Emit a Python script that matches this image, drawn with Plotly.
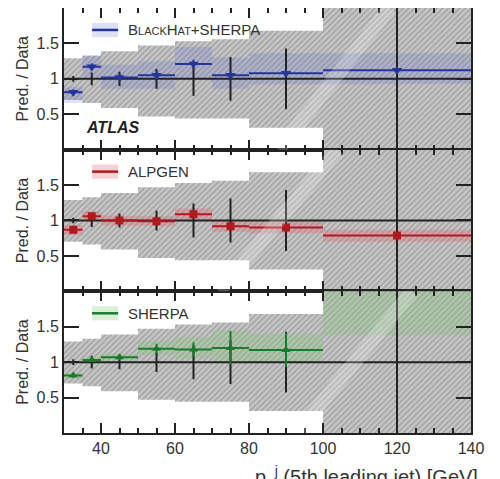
import plotly.graph_objects as go
from plotly.subplots import make_subplots

# ---------------- data ----------------
bin_edges = [30, 35, 40, 50, 60, 70, 80, 100, 140]
bin_centers = [32.5, 37.5, 45, 55, 65, 75, 90, 120]

# data uncertainty (hatched band), ratio = 1
data_lo = [0.70, 0.66, 0.59, 0.47, 0.44, 0.44, 0.31, -1.0]
data_hi = [1.29, 1.33, 1.39, 1.47, 1.53, 1.56, 1.68, 3.0]
data_stat = [0.04, 0.09, 0.10, 0.14, 0.24, 0.31, 0.43, 1.5]

# BlackHat+SHERPA
bh_val = [0.81, 1.17, 1.02, 1.05, 1.21, 1.05, 1.08, 1.12]
bh_err = [0.04, 0.05, 0.05, 0.06, 0.06, 0.04, 0.05, 0.05]
bh_lo = [0.66, 1.02, 0.86, 0.86, 0.98, 0.86, 0.92, 0.93]
bh_hi = [0.88, 1.32, 1.20, 1.25, 1.45, 1.30, 1.36, 1.36]

# ALPGEN
al_val = [0.87, 1.06, 1.00, 0.99, 1.09, 0.92, 0.90, 0.79]
al_err = [0.03, 0.04, 0.03, 0.03, 0.05, 0.04, 0.04, 0.03]
al_lo = [0.80, 0.99, 0.93, 0.92, 1.01, 0.84, 0.82, 0.70]
al_hi = [0.94, 1.13, 1.07, 1.06, 1.17, 1.00, 0.98, 0.87]

# SHERPA
sh_val = [0.81, 1.03, 1.07, 1.19, 1.18, 1.20, 1.17, 2.40]
sh_err = [0.03, 0.03, 0.04, 0.07, 0.10, 0.24, 0.24, 0.30]
sh_lo = [0.77, 0.99, 1.02, 1.10, 1.05, 1.02, 1.00, 1.38]
sh_hi = [0.85, 1.07, 1.12, 1.30, 1.35, 1.45, 1.40, 3.00]

y_ticks = [0.5, 1, 1.5]
x_ticks = [40, 60, 80, 100, 120, 140]

# light diagonal moire stripe across the hatching (x at y=0, x at y=2)
stripe_x0 = [88, 72, 93]
stripe_x1 = [118, 104, 124]

FONT = "Arial, Liberation Sans, sans-serif"


def step_polygon(edges, lo, hi):
    xs, ys = [], []
    for i in range(len(lo)):
        xs += [edges[i], edges[i + 1]]
        ys += [hi[i], hi[i]]
    for i in reversed(range(len(lo))):
        xs += [edges[i + 1], edges[i]]
        ys += [lo[i], lo[i]]
    xs.append(xs[0])
    ys.append(ys[0])
    return xs, ys


half_w = [(bin_edges[i + 1] - bin_edges[i]) / 2 for i in range(len(bin_centers))]

models = [
    dict(val=bh_val, err=bh_err, lo=bh_lo, hi=bh_hi, color="#23349a",
         band="rgba(90,100,210,0.20)", symbol="triangle-down", size=9,
         name="B<span style='font-size:11px'>LACK</span>H<span style='font-size:11px'>AT</span>+SHERPA"),
    dict(val=al_val, err=al_err, lo=al_lo, hi=al_hi, color="#b01a1e",
         band="rgba(235,90,100,0.28)", symbol="square", size=8, name="ALPGEN"),
    dict(val=sh_val, err=sh_err, lo=sh_lo, hi=sh_hi, color="#1c7a2c",
         band="rgba(120,200,110,0.28)", symbol="triangle-up", size=8, name="SHERPA"),
]

fig = make_subplots(rows=3, cols=1, shared_xaxes=True, vertical_spacing=0)

for r, m in enumerate(models, start=1):
    xa = "x" if r == 1 else f"x{r}"
    ya = "y" if r == 1 else f"y{r}"
    # hatched data uncertainty
    hx, hy = step_polygon(bin_edges, data_lo, data_hi)
    fig.add_trace(go.Scatter(
        x=hx, y=hy, mode="lines", line=dict(width=0), fill="toself",
        fillcolor="#c6c6c6",
        fillpattern=dict(shape="/", fgcolor="#7c7c7c", bgcolor="#c8c8c8",
                         size=4, solidity=0.4),
        hoverinfo="skip", showlegend=False), row=r, col=1)
    # model band
    bx, by = step_polygon(bin_edges, m["lo"], m["hi"])
    fig.add_trace(go.Scatter(
        x=bx, y=by, mode="lines", line=dict(width=0), fill="toself",
        fillcolor=m["band"], hoverinfo="skip", showlegend=False), row=r, col=1)
    # reference line at 1
    fig.add_trace(go.Scatter(
        x=[bin_edges[0], bin_edges[-1]], y=[1, 1], mode="lines",
        line=dict(color="#222222", width=2), hoverinfo="skip",
        showlegend=False), row=r, col=1)
    # data statistical errors
    fig.add_trace(go.Scatter(
        x=bin_centers, y=[1] * len(bin_centers), mode="markers",
        marker=dict(size=1, color="#222222"),
        error_y=dict(type="data", array=data_stat, color="#222222",
                     thickness=2, width=0),
        hoverinfo="skip", showlegend=False), row=r, col=1)
    # model points
    fig.add_trace(go.Scatter(
        x=bin_centers, y=m["val"], mode="markers",
        marker=dict(symbol=m["symbol"], size=m["size"], color=m["color"]),
        error_x=dict(type="data", array=half_w, color=m["color"],
                     thickness=2, width=0),
        error_y=dict(type="data", array=m["err"], color=m["color"],
                     thickness=2, width=0),
        cliponaxis=True, showlegend=False), row=r, col=1)

    # moire stripe decoration
    fig.add_shape(type="line", xref=xa, yref=ya,
                  x0=stripe_x0[r - 1], y0=0, x1=stripe_x1[r - 1], y1=2,
                  line=dict(color="rgba(255,255,255,0.22)", width=14),
                  layer="above")

    # legend sample
    yd = f"{ya} domain"
    xd = f"{xa} domain"
    fig.add_shape(type="rect", xref=xd, yref=yd, x0=0.069, x1=0.133,
                  y0=0.795, y1=0.895, fillcolor=m["band"], line=dict(width=0))
    fig.add_shape(type="line", xref=xd, yref=yd, x0=0.069, x1=0.133,
                  y0=0.845, y1=0.845, line=dict(color=m["color"], width=2.5))
    fig.add_annotation(xref=xd, yref=yd, x=0.152, y=0.845, xanchor="left",
                       yanchor="middle", showarrow=False, text=m["name"],
                       font=dict(family=FONT, size=15, color="#333333"))

    fig.update_yaxes(row=r, col=1, range=[0, 2], tickvals=y_ticks,
                     ticktext=["0.5", "1", "1.5"], ticks="inside", ticklen=15,
                     tickwidth=1.5, tickcolor="#222222",
                     showline=True, linecolor="#222222", linewidth=2,
                     mirror="ticks", showgrid=False, zeroline=False,
                     automargin=False,
                     tickfont=dict(family=FONT, size=16, color="#333333"),
                     title=dict(text="Pred. / Data", standoff=4,
                                font=dict(family=FONT, size=16, color="#333333")))
    fig.update_xaxes(row=r, col=1, range=[30, 140], tickvals=x_ticks,
                     ticks="inside", ticklen=10, tickwidth=1.5,
                     tickcolor="#222222",
                     minor=dict(dtick=5, tick0=30, ticks="inside", ticklen=5,
                                tickwidth=1.5, tickcolor="#222222"),
                     showline=True, linecolor="#222222", linewidth=2,
                     mirror="ticks", showgrid=False, zeroline=False,
                     automargin=False,
                     tickfont=dict(family=FONT, size=16, color="#333333"))

fig.add_annotation(xref="x domain", yref="y domain", x=0.05, y=0.153,
                   xanchor="left", yanchor="middle", showarrow=False,
                   text="<b><i>ATLAS</i></b>",
                   font=dict(family=FONT, size=16, color="#222222"))

fig.add_annotation(xref="paper", yref="paper", x=0.465, y=-0.066,
                   xanchor="left", yanchor="top", showarrow=False,
                   text="p<sub>T</sub><sup>j</sup> (5th leading jet) [GeV]",
                   font=dict(family=FONT, size=20, color="#333333"))

fig.update_layout(width=500, height=479,
                  margin=dict(l=56, r=37, t=0, b=54),
                  paper_bgcolor="white", plot_bgcolor="white",
                  showlegend=False)

fig.write_html("out.html")
